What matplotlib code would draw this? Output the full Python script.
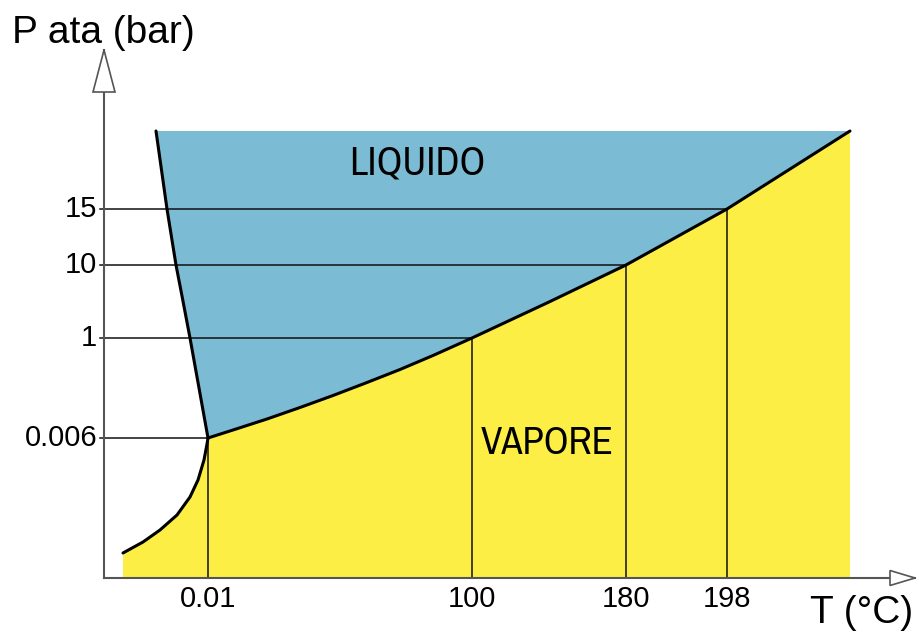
import matplotlib
matplotlib.use('Agg')
import matplotlib.pyplot as plt
from matplotlib import font_manager
from matplotlib.patches import Polygon

plt.rcParams['font.family'] = ['Liberation Sans', 'DejaVu Sans']

# schematic diagram: positions are in diagram units (origin = axes corner)
T_labels = ['0.01', '100', '180', '198']
T_pos = [104, 368, 522, 623]
P_labels = ['0.006', '1', '10', '15']
P_pos = [140, 240, 313, 369]

# solid-vapour (sublimation) curve, up to the triple point
subl_x = [19, 39, 56, 73, 86, 94, 100, 103, 104]
subl_y = [25, 36, 48, 63, 81, 98, 118, 134, 140]
# melting line, triple point upwards
melt_x = [104, 95, 86, 78, 72, 63, 52]
melt_y = [140, 190, 240, 282, 313, 369, 447]
# liquid-vapour curve, triple point to the top
vap_x = [104, 129, 163, 196, 229, 263, 296, 329, 368, 445, 522, 623, 746]
vap_y = [140, 148, 159, 170.5, 182.5, 195.5, 208.5, 222.5, 240, 276, 313, 369, 447]

top_y = 447
right_x = 746

blue = '#7bbbd3'
yellow = '#fdee45'
axis_col = '#555555'

# pick a narrow face for the region names, if one is installed
narrow = [f.name for f in font_manager.fontManager.ttflist
          if 'Narrow' in f.name or 'Condensed' in f.name]
region_font = sorted(set(narrow))[:1] + ['Liberation Sans', 'DejaVu Sans']
region_stretch = 'condensed'

fig = plt.figure(figsize=(9.18, 6.31), dpi=100)
ax = fig.add_axes([0, 0, 1, 1])
ax.set_xlim(-104, 814)
ax.set_ylim(-53, 578)
ax.axis('off')

# yellow (vapour) region
yx = [subl_x[0]] + subl_x + vap_x[1:] + [right_x]
yy = [0] + subl_y + vap_y[1:] + [0]
ax.fill(yx, yy, color=yellow, lw=0, zorder=1)

# blue (liquid) region
bx = vap_x + melt_x[::-1]
by = vap_y + melt_y[::-1]
ax.fill(bx, by, color=blue, lw=0, zorder=1)

# guide lines to the curve
for t, p in zip(T_pos, P_pos):
    ax.plot([-4, t], [p, p], color='#111111', lw=1.1, zorder=2)
    ax.plot([t, t], [0, p], color='#111111', lw=1.1, zorder=2)

# phase boundaries
for xs, ys in [(subl_x, subl_y), (melt_x, melt_y), (vap_x, vap_y)]:
    ax.plot(xs, ys, color='black', lw=2.2, zorder=3,
            solid_joinstyle='round', solid_capstyle='round')

# axes with open arrow heads
ax.plot([0, 0], [0, 528], color=axis_col, lw=1.5, zorder=4)
ax.plot([0, 811], [0, 0], color=axis_col, lw=1.5, zorder=4)
ax.add_patch(Polygon([[0, 528], [-11, 486], [11, 486]], closed=True,
                     facecolor='white', edgecolor=axis_col, lw=1.2, zorder=5))
ax.add_patch(Polygon([[811, 0], [786, 7.5], [786, -7.5]], closed=True,
                     facecolor='white', edgecolor=axis_col, lw=1.2, zorder=5))

# tick labels
for lab, p in zip(P_labels, P_pos):
    ax.text(-7, p, lab, ha='right', va='center', fontsize=21)
for lab, t in zip(T_labels, T_pos):
    ax.text(t, -7, lab, ha='center', va='top', fontsize=21)

ax.text(-92, 535, 'P ata (bar)', ha='left', va='baseline', fontsize=28)
ax.text(706, -45, 'T (°C)', ha='left', va='baseline', fontsize=28)

ax.text(313, 415, 'LIQUIDO', ha='center', va='center', fontsize=29,
        family=region_font, fontstretch=region_stretch, zorder=6)
ax.text(443, 135, 'VAPORE', ha='center', va='center', fontsize=28,
        family=region_font, fontstretch=region_stretch, zorder=6)

fig.savefig('out.png', dpi=100)
